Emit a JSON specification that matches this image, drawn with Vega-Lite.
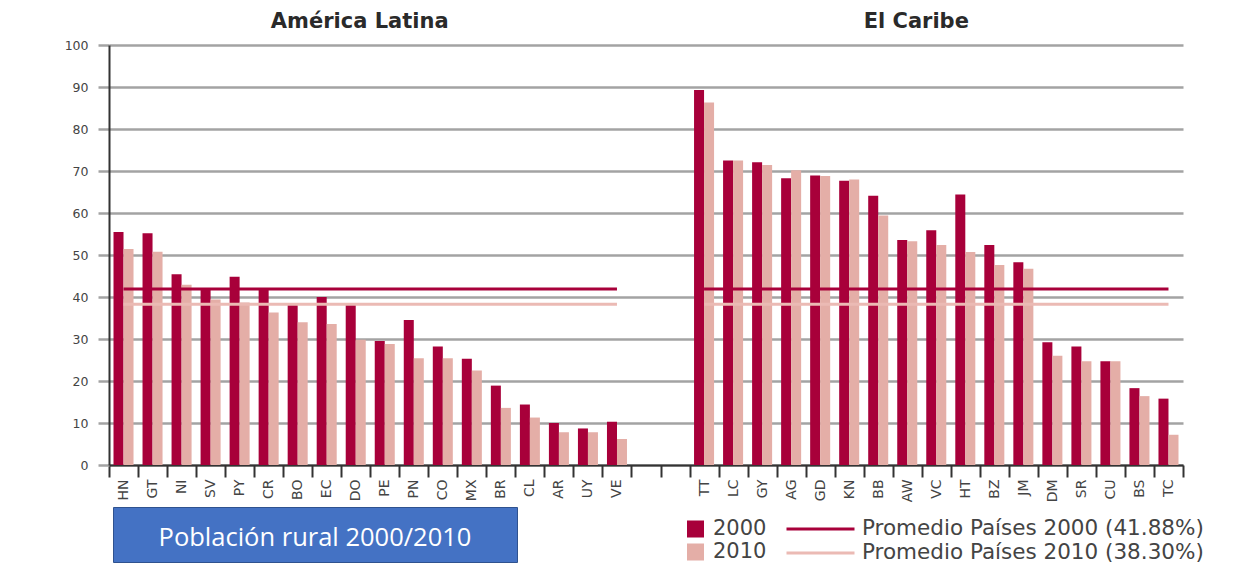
{
  "$schema": "https://vega.github.io/schema/vega-lite/v6.json",
  "width": 1074,
  "height": 420,
  "autosize": {"type": "none"},
  "padding": {"left": 109, "top": 45, "right": 62, "bottom": 110},
  "background": "white",
  "config": {"view": {"stroke": null}, "font": "DejaVu Sans"},
  "datasets": {
    "rural": [
      {"pais": "HN", "2000": 55.5, "2010": 51.4},
      {"pais": "GT", "2000": 55.2, "2010": 50.8},
      {"pais": "NI", "2000": 45.4, "2010": 42.9},
      {"pais": "SV", "2000": 41.7, "2010": 39.4},
      {"pais": "PY", "2000": 44.8, "2010": 38.7},
      {"pais": "CR", "2000": 41.7, "2010": 36.3},
      {"pais": "BO", "2000": 38.1, "2010": 34.0},
      {"pais": "EC", "2000": 40.0, "2010": 33.6},
      {"pais": "DO", "2000": 38.1, "2010": 29.8},
      {"pais": "PE", "2000": 29.5, "2010": 28.8},
      {"pais": "PN", "2000": 34.5, "2010": 25.4},
      {"pais": "CO", "2000": 28.2, "2010": 25.4},
      {"pais": "MX", "2000": 25.3, "2010": 22.5},
      {"pais": "BR", "2000": 18.9, "2010": 13.6},
      {"pais": "CL", "2000": 14.4, "2010": 11.3},
      {"pais": "AR", "2000": 10.0, "2010": 7.8},
      {"pais": "UY", "2000": 8.7, "2010": 7.8},
      {"pais": "VE", "2000": 10.3, "2010": 6.2},
      {"pais": "TT", "2000": 89.3, "2010": 86.3},
      {"pais": "LC", "2000": 72.5, "2010": 72.5},
      {"pais": "GY", "2000": 72.1, "2010": 71.4},
      {"pais": "AG", "2000": 68.3, "2010": 70.2},
      {"pais": "GD", "2000": 68.9, "2010": 68.8},
      {"pais": "KN", "2000": 67.7, "2010": 68.0},
      {"pais": "BB", "2000": 64.1, "2010": 59.4},
      {"pais": "AW", "2000": 53.6, "2010": 53.3},
      {"pais": "VC", "2000": 55.9, "2010": 52.4},
      {"pais": "HT", "2000": 64.4, "2010": 50.7},
      {"pais": "BZ", "2000": 52.4, "2010": 47.6},
      {"pais": "JM", "2000": 48.3, "2010": 46.7},
      {"pais": "DM", "2000": 29.2, "2010": 26.0},
      {"pais": "SR", "2000": 28.2, "2010": 24.7},
      {"pais": "CU", "2000": 24.7, "2010": 24.7},
      {"pais": "BS", "2000": 18.3, "2010": 16.4},
      {"pais": "TC", "2000": 15.8, "2010": 7.2}
    ],
    "promedios": [
      {"region": "América Latina", "serie": "Promedio Países 2000 (41.88%)", "pais": "HN", "valor": 41.88},
      {"region": "América Latina", "serie": "Promedio Países 2000 (41.88%)", "pais": "VE", "valor": 41.88},
      {"region": "América Latina", "serie": "Promedio Países 2010 (38.30%)", "pais": "HN", "valor": 38.30},
      {"region": "América Latina", "serie": "Promedio Países 2010 (38.30%)", "pais": "VE", "valor": 38.30},
      {"region": "El Caribe", "serie": "Promedio Países 2000 (41.88%)", "pais": "TT", "valor": 41.88},
      {"region": "El Caribe", "serie": "Promedio Países 2000 (41.88%)", "pais": "TC", "valor": 41.88},
      {"region": "El Caribe", "serie": "Promedio Países 2010 (38.30%)", "pais": "TT", "valor": 38.30},
      {"region": "El Caribe", "serie": "Promedio Países 2010 (38.30%)", "pais": "TC", "valor": 38.30}
    ]
  },
  "layer": [
    {
      "data": {"name": "rural"},
      "transform": [{"fold": ["2000", "2010"], "as": ["anio", "valor"]}],
      "mark": {"type": "bar"},
      "encoding": {
        "x": {
          "field": "pais", "type": "nominal",
          "scale": {"domain": ["HN","GT","NI","SV","PY","CR","BO","EC","DO","PE","PN","CO","MX","BR","CL","AR","UY","VE"," ","  ","TT","LC","GY","AG","GD","KN","BB","AW","VC","HT","BZ","JM","DM","SR","CU","BS","TC"], "paddingInner": 0, "paddingOuter": 0},
          "axis": {
            "title": null, "tickBand": "extent", "labelAngle": 270,
            "labelFont": "DejaVu Sans", "labelFontSize": 14, "labelColor": "#444444",
            "tickSize": 12, "tickWidth": 2, "tickColor": "#333333",
            "domainColor": "#333333", "domainWidth": 2, "labelPadding": 2, "grid": false
          }
        },
        "xOffset": {"field": "anio", "type": "nominal", "scale": {"paddingInner": 0, "paddingOuter": 0.45}},
        "y": {
          "field": "valor", "type": "quantitative",
          "scale": {"domain": [0, 100]},
          "axis": {
            "title": null, "values": [0,10,20,30,40,50,60,70,80,90,100],
            "grid": true, "gridColor": "#a3a3a3", "gridWidth": 2.5,
            "tickColor": "#a3a3a3", "tickSize": 11, "tickWidth": 2.5,
            "domainColor": "#333333", "domainWidth": 2,
            "labelFont": "DejaVu Sans", "labelFontSize": 12.5, "labelPadding": 10, "labelColor": "#444444"
          }
        },
        "fill": {
          "field": "anio", "type": "nominal",
          "scale": {"domain": ["2000", "2010"], "range": ["#A8003A", "#E4AEA7"]},
          "legend": {
            "orient": "none", "legendX": 576, "legendY": 474, "title": null,
            "symbolType": "square", "symbolSize": 289, "symbolStrokeWidth": 0, "symbolOpacity": 1,
            "labelFont": "DejaVu Sans", "labelFontSize": 21, "labelColor": "#444444",
            "labelOffset": 7, "rowPadding": 2, "padding": 0, "clipHeight": 20
          }
        }
      }
    },
    {
      "data": {"name": "promedios"},
      "mark": {"type": "line", "strokeWidth": 3},
      "encoding": {
        "x": {"field": "pais", "type": "nominal"},
        "y": {"field": "valor", "type": "quantitative", "scale": {"domain": [0, 100]}},
        "stroke": {
          "field": "serie", "type": "nominal",
          "scale": {"domain": ["Promedio Países 2000 (41.88%)", "Promedio Países 2010 (38.30%)"], "range": ["#A8003A", "#EBBAB4"]},
          "legend": {
            "orient": "none", "legendX": 676, "legendY": 474, "title": null,
            "symbolType": "stroke", "symbolSize": 4624, "symbolStrokeWidth": 3,
            "labelFont": "DejaVu Sans", "labelFontSize": 21.5, "labelColor": "#444444",
            "labelOffset": 6, "rowPadding": 2, "padding": 0, "clipHeight": 20, "labelLimit": 600
          }
        },
        "detail": {"field": "region", "type": "nominal"}
      }
    },
    {
      "data": {"values": [{"titulo": "América Latina"}]},
      "mark": {"type": "text", "font": "DejaVu Sans", "fontWeight": "bold", "fontSize": 21, "color": "#2a2a2a", "dx": 4, "baseline": "middle"},
      "encoding": {
        "x": {"datum": "DO", "type": "nominal"},
        "y": {"datum": 105.5, "type": "quantitative", "scale": {"domain": [0, 100]}},
        "text": {"field": "titulo"}
      }
    },
    {
      "data": {"values": [{"titulo": "El Caribe"}]},
      "mark": {"type": "text", "font": "DejaVu Sans", "fontWeight": "bold", "fontSize": 21, "color": "#2a2a2a", "dx": -20, "baseline": "middle"},
      "encoding": {
        "x": {"datum": "VC", "type": "nominal"},
        "y": {"datum": 105.5, "type": "quantitative", "scale": {"domain": [0, 100]}},
        "text": {"field": "titulo"}
      }
    },
    {
      "data": {"values": [{"nota": "Población rural 2000/2010"}]},
      "mark": {"type": "point", "opacity": 0},
      "encoding": {
        "shape": {
          "field": "nota", "type": "nominal",
          "legend": {
            "orient": "none", "legendX": 4, "legendY": 462,
            "title": "Población rural 2000/2010",
            "titleFont": "Open Sans", "titleFontSize": 25.5, "titleFontWeight": "normal",
            "titleColor": "white", "titleAnchor": "middle", "titlePadding": 0, "titleLimit": 700,
            "titleOrient": "bottom",
            "fillColor": "#4472C4", "strokeColor": "#2F528F", "padding": 10,
            "symbolType": "stroke", "symbolSize": 147456, "symbolOpacity": 0,
            "symbolStrokeColor": "#4472C4", "symbolStrokeWidth": 0,
            "clipHeight": 9,
            "labelExpr": "''", "labelOffset": 0, "labelFontSize": 1
          }
        }
      }
    }
  ]
}
